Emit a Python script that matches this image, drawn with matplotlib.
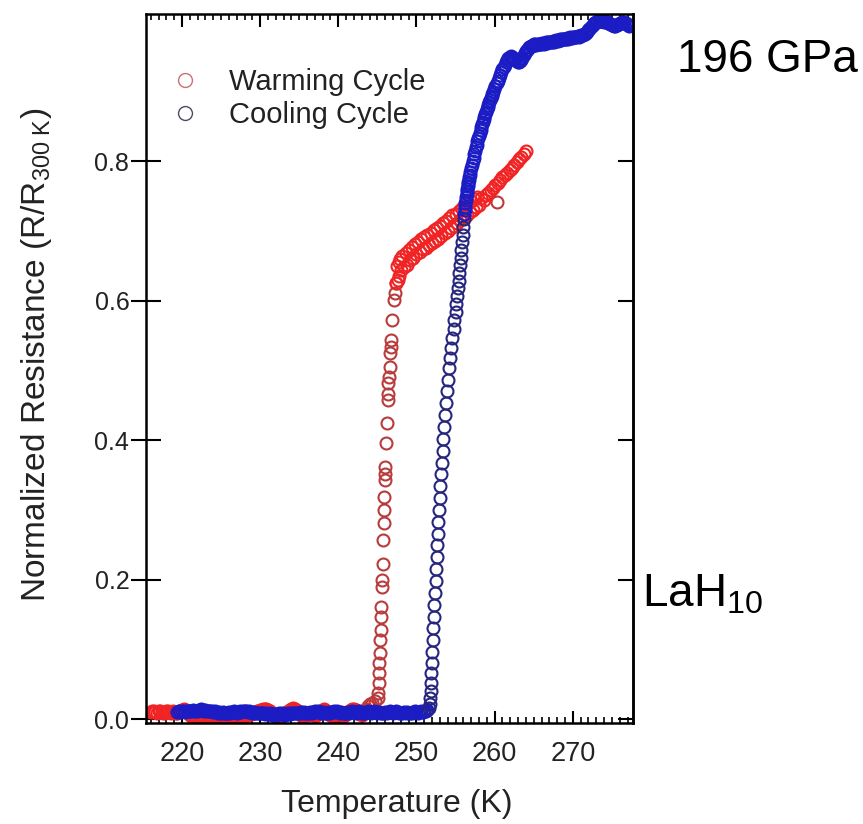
import matplotlib
matplotlib.use("Agg")
import matplotlib.pyplot as plt
from matplotlib.lines import Line2D
from matplotlib.ticker import MultipleLocator

# ── data ─────────────────────────────────────────────────────────────────────
# (temperature K, R/R300K)

warm_low = [
    (216.0, .010), (216.2, .011), (216.4, .012), (216.6, .010), (216.8, .009), (217.0, .011), (217.2, .012), (217.4, .010),
    (217.6, .008), (217.8, .009), (218.0, .011), (218.2, .012), (218.4, .010), (218.6, .009), (218.8, .011), (219.0, .010),
    (219.2, .008), (219.4, .009), (219.6, .011), (219.8, .012), (220.0, .013), (220.2, .014), (220.4, .012), (220.6, .010),
    (220.8, .008), (221.0, .006), (221.2, .005), (221.4, .004), (221.6, .005), (221.8, .003), (222.0, .004), (222.2, .002),
    (222.4, .003), (222.6, .004), (222.8, .002), (223.0, .001), (223.2, .002), (223.4, .003), (223.6, .001), (223.8, .000),
    (224.0, .002), (224.2, .001), (224.4, .000), (224.6, -.001), (224.8, .001), (225.0, .000), (225.2, -.001), (225.4, .001),
    (225.6, .002), (225.8, .000), (226.0, .001), (226.2, -.001), (226.4, .000), (226.6, .002), (226.8, .003), (227.0, .004),
    (227.2, .003), (227.4, .005), (227.6, .004), (227.8, .006), (228.0, .005), (228.2, .007), (228.4, .006), (228.6, .008),
    (228.8, .007), (229.0, .009), (229.2, .008), (229.4, .010), (229.6, .011), (229.8, .012), (230.0, .013), (230.2, .012),
    (230.4, .014), (230.6, .015), (230.8, .014), (231.0, .013), (231.2, .011), (231.4, .009), (231.6, .007), (231.8, .005),
    (232.0, .004), (232.2, .003), (232.4, .002), (232.6, .004), (232.8, .005), (233.0, .007), (233.2, .009), (233.4, .010),
    (233.6, .012), (233.8, .013), (234.0, .015), (234.2, .016), (234.4, .014), (234.6, .013), (234.8, .011), (235.0, .009),
    (235.2, .007), (235.4, .005), (235.6, .004), (235.8, .005), (236.0, .006), (236.2, .007), (236.4, .008), (236.6, .007),
    (236.8, .006), (237.0, .005), (237.2, .006), (237.4, .008), (237.6, .010), (237.8, .012), (238.0, .013), (238.2, .014),
    (238.4, .012), (238.6, .010), (238.8, .008), (239.0, .006), (239.2, .004), (239.4, .002), (239.6, .001), (239.8, .000),
    (240.0, -.001), (240.2, .000), (240.4, .002), (240.6, .004), (240.8, .006), (241.0, .008), (241.2, .010), (241.4, .012),
    (241.6, .013), (241.8, .014), (242.0, .015), (242.2, .013), (242.4, .011), (242.6, .009), (242.8, .007), (243.0, .006),
    (243.2, .008), (243.4, .011), (243.6, .014), (243.8, .018),
]

warm_trans = [
    (244.0, .021), (244.3, .023), (244.7, .026),
    (245.1, .030), (245.1, .037), (245.15, .051), (245.2, .066), (245.25, .080), (245.3, .094), (245.35, .113),
    (245.4, .128), (245.45, .147), (245.5, .161), (245.6, .190), (245.6, .199), (245.7, .223), (245.75, .257),
    (245.8, .281), (245.85, .300), (245.9, .319), (245.95, .343), (245.95, .352), (246.0, .362), (246.1, .396),
    (246.2, .424), (246.3, .458), (246.3, .467), (246.4, .482), (246.45, .491), (246.55, .505), (246.65, .525),
    (246.7, .534), (246.75, .544), (246.9, .572), (247.1, .601), (247.2, .611), (247.35, .625),
    (260.3, .742),
]

warm_high = [
    (247.4, .626), (247.5, .650), (247.6, .630), (247.7, .656), (247.8, .636), (247.9, .660), (248.0, .644), (248.2, .664),
    (248.4, .648), (248.6, .668), (248.8, .652), (249.0, .673), (249.2, .658), (249.4, .677), (249.6, .662), (249.8, .681),
    (250.0, .667), (250.2, .685), (250.4, .670), (250.6, .689), (250.8, .674), (251.0, .691), (251.2, .676), (251.4, .695),
    (251.6, .680), (251.8, .698), (252.0, .683), (252.2, .701), (252.4, .686), (252.6, .704), (252.8, .689), (253.0, .707),
    (253.2, .693), (253.4, .711), (253.6, .697), (253.8, .715), (254.0, .700), (254.2, .719), (254.4, .704), (254.6, .723),
    (254.8, .708), (255.0, .725), (255.2, .712), (255.4, .729), (255.6, .716), (255.8, .733), (256.0, .720), (256.2, .736),
    (256.4, .723), (256.6, .740), (256.8, .727), (257.0, .743), (257.2, .730), (257.4, .746), (257.6, .734), (257.8, .749),
    (258.0, .738), (258.3, .748), (258.6, .745), (258.9, .752), (259.2, .755), (259.5, .759), (259.8, .762), (260.1, .766),
    (260.4, .769), (260.7, .773), (261.0, .777), (261.3, .780), (261.6, .783), (261.9, .787), (262.2, .791),
    (262.5, .795), (262.8, .799), (263.1, .803), (263.4, .807), (263.7, .811), (264.0, .815),
]

cool_low = [
    (219.4, .010), (219.6, .011), (219.8, .010), (220.0, .012), (220.2, .011), (220.4, .010), (220.6, .011), (220.8, .012),
    (221.0, .011), (221.2, .012), (221.4, .013), (221.6, .012), (221.8, .011), (222.0, .012), (222.2, .013), (222.4, .014),
    (222.6, .013), (222.8, .012), (223.0, .013), (223.2, .012), (223.4, .011), (223.6, .012), (223.8, .011), (224.0, .010),
    (224.2, .011), (224.4, .010), (224.6, .009), (224.8, .010), (225.0, .009), (225.2, .010), (225.4, .009), (225.6, .008),
    (225.8, .009), (226.0, .010), (226.2, .009), (226.4, .010), (226.6, .011), (226.8, .010), (227.0, .009), (227.2, .010),
    (227.4, .011), (227.6, .010), (227.8, .011), (228.0, .012), (228.2, .011), (228.4, .010), (228.6, .011), (228.8, .010),
    (229.0, .009), (229.2, .010), (229.4, .009), (229.6, .008), (229.8, .009), (230.0, .008), (230.2, .009), (230.4, .008),
    (230.6, .007), (230.8, .008), (231.0, .007), (231.2, .008), (231.4, .007), (231.6, .006), (231.8, .007), (232.0, .006),
    (232.2, .007), (232.4, .008), (232.6, .007), (232.8, .008), (233.0, .007), (233.2, .006), (233.4, .007), (233.6, .008),
    (233.8, .007), (234.0, .008), (234.2, .009), (234.4, .008), (234.6, .009), (234.8, .008), (235.0, .009), (235.2, .010),
    (235.4, .009), (235.6, .010), (235.8, .009), (236.0, .008), (236.2, .009), (236.4, .010), (236.6, .009), (236.8, .010),
    (237.0, .011), (237.2, .010), (237.4, .011), (237.6, .010), (237.8, .009), (238.0, .010), (238.2, .009), (238.4, .008),
    (238.6, .009), (238.8, .010), (239.0, .009), (239.2, .010), (239.4, .011), (239.6, .010), (239.8, .011), (240.0, .010),
    (240.2, .009), (240.4, .010), (240.6, .009), (240.8, .008), (241.0, .009), (241.2, .010), (241.4, .009), (241.6, .010),
    (241.8, .011), (242.0, .010), (242.2, .009), (242.4, .010), (242.6, .011), (242.8, .010), (243.0, .009), (243.2, .008),
    (243.4, .009), (243.6, .010), (243.8, .011), (244.0, .010), (244.2, .009), (244.4, .010), (244.6, .011), (244.8, .010),
    (245.0, .009), (245.2, .010), (245.4, .009), (245.6, .008), (245.8, .009), (246.0, .010), (246.2, .009), (246.4, .010),
    (246.6, .011), (246.8, .010), (247.0, .009), (247.2, .010), (247.4, .011), (247.6, .010), (247.8, .009), (248.0, .008),
    (248.2, .009), (248.4, .010), (248.6, .009), (248.8, .010), (249.0, .009), (249.2, .008), (249.4, .009), (249.6, .010),
    (249.8, .011), (250.0, .010), (250.2, .009), (250.4, .010), (250.6, .011), (250.8, .010), (251.0, .011), (251.2, .012),
    (251.4, .013),
]

cool_trans = [
    (251.6, .016), (251.7, .022), (251.75, .030), (251.8, .040), (251.85, .052), (251.9, .066), (251.95, .080),
    (252.0, .096), (252.1, .113), (252.15, .130), (252.2, .147), (252.3, .164), (252.35, .181), (252.45, .198),
    (252.5, .215), (252.6, .232), (252.65, .249), (252.75, .266), (252.8, .283), (252.9, .300), (253.0, .317),
    (253.05, .334), (253.15, .351), (253.25, .368), (253.35, .385), (253.45, .402), (253.55, .419), (253.65, .436),
    (253.8, .453), (253.9, .470), (254.05, .487), (254.2, .503), (254.3, .518), (254.45, .533), (254.6, .547),
    (254.75, .560), (254.85, .572), (255.0, .584), (255.1, .596), (255.2, .607), (255.3, .618), (255.4, .629),
    (255.5, .640), (255.6, .651), (255.7, .662), (255.75, .673), (255.85, .684), (255.9, .695), (256.0, .706),
    (256.05, .717),
]

cool_high = [
    (256.1, .724), (256.15, .730), (256.2, .735), (256.25, .740), (256.3, .745), (256.35, .749),
    (256.4, .753), (256.45, .757), (256.5, .761), (256.55, .765), (256.6, .768), (256.65, .771), (256.7, .774),
    (256.75, .777), (256.8, .780), (256.9, .785), (257.0, .790), (257.1, .795), (257.2, .800), (257.3, .805),
    (257.4, .810), (257.5, .815), (257.6, .820), (257.7, .824), (257.8, .829), (257.9, .833), (258.0, .837),
    (258.1, .841), (258.2, .845), (258.3, .849), (258.4, .853), (258.5, .857), (258.6, .861), (258.7, .864),
    (258.8, .868), (258.9, .871), (259.0, .875), (259.1, .878), (259.2, .881), (259.3, .885), (259.4, .888),
    (259.5, .891), (259.6, .894), (259.7, .897), (259.8, .900), (259.95, .904), (260.1, .908), (260.25, .912),
    (260.4, .916), (260.55, .920), (260.7, .924), (260.85, .928), (261.0, .932), (261.15, .936), (261.3, .939),
    (261.45, .942), (261.6, .945),
    (261.75, .948), (261.9, .950), (262.05, .951), (262.2, .950), (262.35, .949), (262.5, .947), (262.65, .945),
    (262.8, .944), (262.95, .943), (263.1, .943), (263.25, .944), (263.4, .946), (263.55, .949), (263.7, .952),
    (263.85, .955), (264.0, .958), (264.15, .960), (264.3, .962), (264.45, .964), (264.6, .965), (264.75, .966),
    (264.9, .967), (265.05, .968), (265.2, .968), (265.35, .967), (265.5, .968), (265.65, .969), (265.8, .968),
    (265.95, .969), (266.1, .970), (266.25, .969), (266.4, .970), (266.55, .971), (266.7, .970), (266.85, .971),
    (267.0, .972), (267.15, .971), (267.3, .972), (267.45, .973), (267.6, .972), (267.75, .973), (267.9, .974),
    (268.05, .973), (268.2, .974), (268.35, .975), (268.5, .974), (268.65, .975), (268.8, .976), (268.95, .975),
    (269.1, .976), (269.25, .977), (269.4, .976), (269.55, .977), (269.7, .978), (269.85, .977), (270.0, .978),
    (270.15, .979), (270.3, .978), (270.45, .979), (270.6, .980), (270.75, .979), (270.9, .980), (271.05, .981),
    (271.2, .982), (271.35, .982), (271.5, .983), (271.65, .984), (271.8, .986), (271.95, .988), (272.1, .990),
    (272.25, .992), (272.4, .994), (272.55, .996), (272.7, .998), (272.85, .999), (273.0, 1.000), (273.15, 1.001),
    (273.3, 1.002), (273.45, 1.002), (273.6, 1.001), (273.75, 1.002), (273.9, 1.001), (274.05, 1.000), (274.2, 1.001),
    (274.35, 1.000), (274.5, .999), (274.65, .998), (274.8, .997), (274.95, .996), (275.1, .996), (275.25, .995),
    (275.4, .995), (275.55, .996), (275.7, .996), (275.85, .997), (276.0, .998), (276.15, .999), (276.3, 1.000),
    (276.45, 1.000), (276.6, .999), (276.75, .998), (276.9, .997), (277.05, .996), (277.2, .995),
]

x_ticks = [220, 230, 240, 250, 260, 270]
y_ticks = [0.0, 0.2, 0.4, 0.6, 0.8]

# dense runs of points look brighter than the isolated circles in the source
WARM_DENSE = "#f02424"
WARM_SPARSE = "#b83c3c"
COOL_DENSE = "#1c1cc4"
COOL_SPARSE = "#26267e"

# ── style ────────────────────────────────────────────────────────────────────

plt.rcParams.update({
    "font.family": ["Liberation Sans", "DejaVu Sans"],
    "mathtext.fontset": "custom",
    "mathtext.rm": "Liberation Sans",
    "mathtext.it": "Liberation Sans:italic",
    "mathtext.bf": "Liberation Sans:bold",
})

fig = plt.figure(figsize=(8.63, 8.24), dpi=100)
ax = fig.add_axes([0.1692, 0.1226, 0.5643, 0.8604])

mk = dict(linestyle="none", marker="o", markerfacecolor="none",
          markersize=8.6, markeredgewidth=1.5)
for seg, col in [(warm_low, WARM_DENSE), (warm_trans, WARM_SPARSE),
                 (warm_high, WARM_DENSE), (cool_low, COOL_DENSE),
                 (cool_trans, COOL_SPARSE), (cool_high, COOL_DENSE)]:
    T, R = zip(*seg)
    ax.plot(T, R, color=col, **mk)

ax.set_xlim(215.4, 277.7)
ax.set_ylim(-0.0057, 1.0115)
ax.set_xticks(x_ticks)
ax.set_yticks(y_ticks)
ax.set_yticklabels([f"{v:.1f}" for v in y_ticks])
ax.xaxis.set_minor_locator(MultipleLocator(1))

for s in ax.spines.values():
    s.set_linewidth(1.8)

ax.tick_params(axis="x", which="major", direction="in", length=9, width=1.5,
               top=True, bottom=True, labelsize=19.5, pad=13, labelcolor="#222222")
ax.tick_params(axis="x", which="minor", direction="in", length=4, width=1.2,
               top=True, bottom=True)
ax.tick_params(axis="y", which="major", direction="inout", length=22, width=1.5,
               right=False, labelsize=18, pad=1, labelcolor="#222222")
sec = ax.secondary_yaxis("right")
sec.set_yticks(y_ticks)
sec.tick_params(direction="in", length=11, width=1.5, labelright=False)
sec.spines["right"].set_linewidth(1.8)

fig.text(397 / 863, 1 - 804 / 824, "Temperature (K)", fontsize=23,
         ha="center", va="center", color="#222222")
fig.text(37 / 863, 1 - 355 / 824,
         r"Normalized Resistance (R/R$_{\mathregular{300\ K}}$)",
         fontsize=24, rotation=90, ha="center", va="center", color="#222222")

handles = [
    Line2D([], [], linestyle="none", marker="o", markerfacecolor="none",
           markersize=10, markeredgewidth=1.0, color="#cc7070"),
    Line2D([], [], linestyle="none", marker="o", markerfacecolor="none",
           markersize=10, markeredgewidth=1.0, color="#4a4a66"),
]
ax.legend(handles, ["Warming Cycle", "Cooling Cycle"], loc="upper left",
          bbox_to_anchor=(0.05, 0.924), frameon=False, fontsize=21,
          borderpad=0, borderaxespad=0, handlelength=1.0, handletextpad=1.0,
          labelspacing=0.17, labelcolor="#222222")

fig.text(677 / 863, 1 - 60 / 824, "196 GPa", fontsize=33, ha="left", va="center")
fig.text(642 / 863, 1 - 607 / 824, r"LaH$_{\mathregular{10}}$", fontsize=33,
         ha="left", va="baseline")

fig.savefig("out.png", dpi=100)
